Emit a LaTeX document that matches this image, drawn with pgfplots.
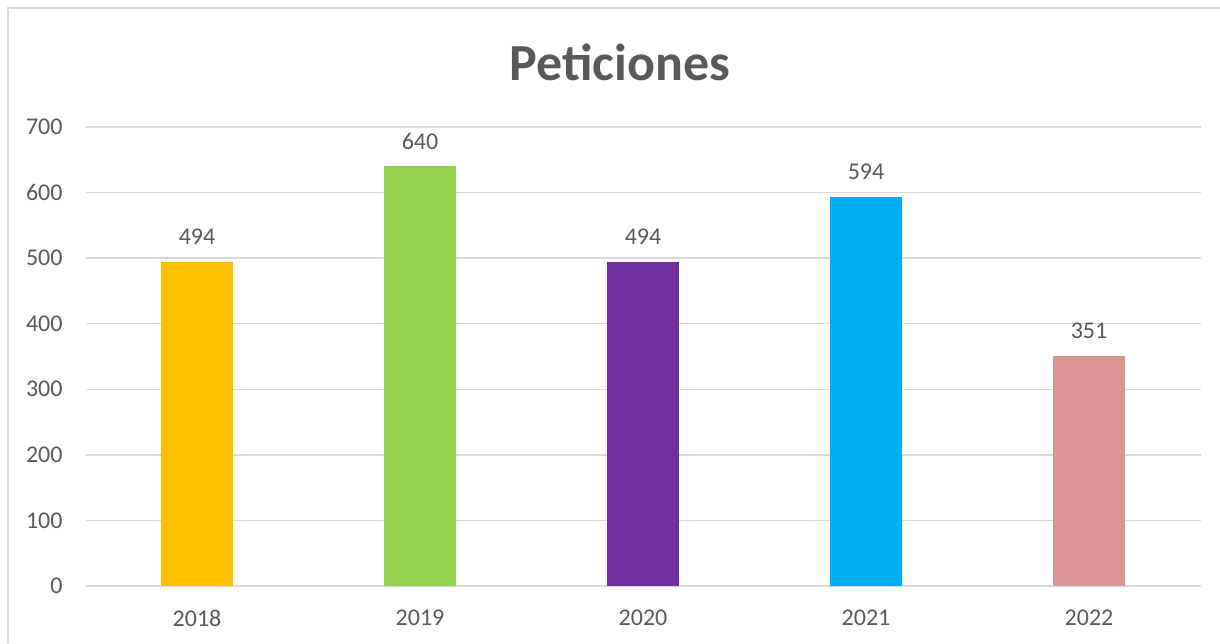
\documentclass[border=0pt]{standalone}
\usepackage{pgfplots}
\pgfplotsset{compat=1.18}
\usepackage{fontspec}
\setmainfont{Carlito}
\definecolor{txt}{HTML}{595959}
\definecolor{gridc}{HTML}{D9D9D9}
\definecolor{c1}{HTML}{FFC000}
\definecolor{c2}{HTML}{92D050}
\definecolor{c3}{HTML}{7030A0}
\definecolor{c4}{HTML}{00B0F0}
\definecolor{c5}{HTML}{DA9694}
\begin{document}
\begin{tikzpicture}
\useasboundingbox (0pt,0pt) rectangle (915pt,482.25pt);
\draw[gridc, line width=1.5pt] (6pt,0pt) -- (6pt,476.25pt) -- (915pt,476.25pt);
\node[txt, font=\fontsize{39}{47}\selectfont\bfseries] at (465pt,435.75pt) {Peticiones};
\begin{axis}[
  at={(64.125pt,42.75pt)}, anchor=south west,
  scale only axis, width=836.25pt, height=344.25pt,
  xmin=-0.5, xmax=4.5, ymin=0, ymax=700,
  xtick={0,1,2,3,4}, xticklabels={2018,2019,2020,2021,2022},
  ytick={0,100,...,700},
  ymajorgrids, grid style={gridc, line width=1.1pt},
  axis line style={draw=none}, major tick length=0pt, tick style={draw=none},
  /pgf/number format/assume math mode=true,
  ticklabel style={txt, font=\fontsize{18}{22}\selectfont},
  yticklabel style={inner sep=0pt, xshift=-17pt},
  xticklabel style={inner sep=0pt, yshift=-18pt},
  nodes near coords,
  every node near coord/.append style={txt, font=\fontsize{18}{22}\selectfont, anchor=center, inner sep=0pt, yshift=18.75pt},
  clip=false,
]
\addplot[ybar, bar width=54pt, bar shift=0pt, fill=c1, draw=none] coordinates {(0,494)};
\addplot[ybar, bar width=54pt, bar shift=0pt, fill=c2, draw=none] coordinates {(1,640)};
\addplot[ybar, bar width=54pt, bar shift=0pt, fill=c3, draw=none] coordinates {(2,494)};
\addplot[ybar, bar width=54pt, bar shift=0pt, fill=c4, draw=none] coordinates {(3,594)};
\addplot[ybar, bar width=54pt, bar shift=0pt, fill=c5, draw=none] coordinates {(4,351)};
\end{axis}
\end{tikzpicture}
\end{document}
